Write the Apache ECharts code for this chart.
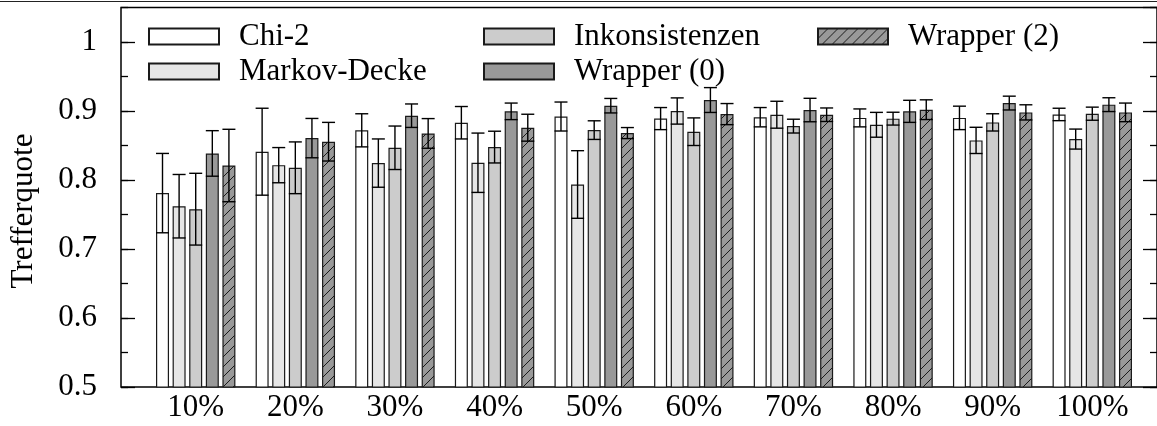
<!DOCTYPE html>
<html>
<head>
<meta charset="utf-8">
<script src="https://cdn.jsdelivr.net/npm/echarts@6/dist/echarts.min.js"></script>
<style>
html,body{margin:0;padding:0;background:#fff;}
#chart{width:1157px;height:426px;}
</style>
</head>
<body>
<div id="chart"></div>
<script>
const categories = ['10%','20%','30%','40%','50%','60%','70%','80%','90%','100%'];
const seriesNames = ['Chi-2','Markov-Decke','Inkonsistenzen','Wrapper (0)','Wrapper (2)'];
const yTicks = [0.5,0.6,0.7,0.8,0.9,1.0];

const chi2      = [0.781, 0.841, 0.872, 0.883, 0.892, 0.889, 0.891, 0.890, 0.890, 0.895];
const chi2Err   = [0.0575,0.063, 0.024, 0.0235,0.021, 0.016, 0.014, 0.013, 0.017, 0.009];
const markov    = [0.762, 0.8215,0.8245,0.825, 0.7935,0.900, 0.8946,0.880, 0.8574,0.8593];
const markovErr = [0.046, 0.0255,0.035, 0.043, 0.049, 0.019, 0.0195,0.018, 0.019, 0.0145];
const inkon     = [0.7577,0.8177,0.8467,0.8477,0.8723,0.870, 0.8781,0.8889,0.8835,0.8961];
const inkonErr  = [0.052, 0.0375,0.0315,0.023, 0.0135,0.020, 0.010, 0.0093,0.0125,0.0095];
const w0        = [0.8385,0.8607,0.8932,0.8995,0.9077,0.9159,0.9014,0.8995,0.9115,0.9092];
const w0Err     = [0.033, 0.0285,0.017, 0.012, 0.0105,0.018, 0.017, 0.016, 0.010, 0.010];
const w2        = [0.821, 0.8555,0.8675,0.8758,0.868, 0.8955,0.8946,0.9019,0.898, 0.898];
const w2Err     = [0.0525,0.028, 0.0215,0.0195,0.008, 0.0153,0.0098,0.0143,0.011, 0.0135];

const values = [chi2, markov, inkon, w0, w2];
const errors = [chi2Err, markovErr, inkonErr, w0Err, w2Err];

// hatch pattern
const P = 10;
const pc = document.createElement('canvas');
pc.width = P; pc.height = P;
const pctx = pc.getContext('2d');
pctx.fillStyle = '#999999';
pctx.fillRect(0,0,P,P);
pctx.strokeStyle = '#1a1a1a';
pctx.lineWidth = 1;
pctx.beginPath();
pctx.moveTo(-1,P+1); pctx.lineTo(P+1,-1);
pctx.moveTo(-1,1); pctx.lineTo(1,-1);
pctx.moveTo(P-1,P+1); pctx.lineTo(P+1,P-1);
pctx.stroke();
const hatch = {image: pc, repeat: 'repeat'};

const fills = ['#ffffff','#e6e6e6','#cccccc','#999999', hatch];
const FONT = 'Liberation Serif';

const GTOP = 7.5, GH = 379.5;
const chart = echarts.init(document.getElementById('chart'));

const barSeries = seriesNames.map((n,j)=>({
  type:'bar', name:n, xAxisIndex:1, yAxisIndex:4,
  data: values[j],
  barWidth: 13, barGap: '27.7%',
  itemStyle:{color: fills[j], borderColor:'#1a1a1a', borderWidth:1.2},
  emphasis:{disabled:true}, animation:false
}));

const errSeries = seriesNames.map((n,j)=>({
  type:'custom', name:'err'+j, xAxisIndex:1, yAxisIndex:4,
  data: values[j].map((v,i)=>[i, v-errors[j][i], v+errors[j][i]]),
  renderItem:(params, api)=>{
    const i = api.value(0);
    const bw = api.size([1,0])[0];
    const off = (j-2)*bw/6;
    const lo = api.coord([i, api.value(1)]);
    const hi = api.coord([i, api.value(2)]);
    const x = lo[0]+off, hw = 6.5;
    const st = {stroke:'#000', lineWidth:1.4};
    return {type:'group', children:[
      {type:'line', shape:{x1:x,y1:lo[1],x2:x,y2:hi[1]}, style:st},
      {type:'line', shape:{x1:x-hw,y1:lo[1],x2:x+hw,y2:lo[1]}, style:st},
      {type:'line', shape:{x1:x-hw,y1:hi[1],x2:x+hw,y2:hi[1]}, style:st}
    ]};
  },
  animation:false, z:5
}));

const yBase = {type:'value', min:0.5, max:1.05, gridIndex:0,
  splitLine:{show:false}, axisLine:{show:false}};

const legendCommon = {
  orient:'vertical', itemWidth:70, itemHeight:16, itemGap:4, icon:'rect',
  selectedMode:false, padding:0,
  textStyle:{fontFamily:FONT, fontSize:31, color:'#000', padding:[0,0,0,15]}
};

chart.setOption({
  animation:false,
  grid:[
    {left:121, top:GTOP, width:1046, height:GH, show:true, borderColor:'#000', borderWidth:1.5, backgroundColor:'transparent'},
    {left:145.9, top:GTOP, width:996.2, height:GH}
  ],
  xAxis:[
    {type:'value', gridIndex:0, min:0, max:1, show:false},
    {type:'category', gridIndex:1, data:categories, axisLine:{show:false}, axisTick:{show:false},
     axisLabel:{fontFamily:FONT, fontSize:31, color:'#000', margin:5}}
  ],
  yAxis:[
    Object.assign({}, yBase, {position:'left', interval:0.1,
      axisTick:{inside:true, length:14, lineStyle:{color:'#000', width:1.3}},
      axisLabel:{fontFamily:FONT, fontSize:31, color:'#000', margin:24, showMaxLabel:false,
        formatter:(v)=>{ const k = yTicks.find(t=>Math.abs(t-v)<1e-6); return k===undefined?'':(k===1?'1':k.toFixed(1)); }}}),
    Object.assign({}, yBase, {position:'left', interval:0.05,
      axisTick:{inside:true, length:7, lineStyle:{color:'#000', width:1.3}}, axisLabel:{show:false}}),
    Object.assign({}, yBase, {position:'right', interval:0.1,
      axisTick:{inside:true, length:14, lineStyle:{color:'#000', width:1.3}}, axisLabel:{show:false}}),
    Object.assign({}, yBase, {position:'right', interval:0.05,
      axisTick:{inside:true, length:7, lineStyle:{color:'#000', width:1.3}}, axisLabel:{show:false}}),
    {type:'value', gridIndex:1, min:0.5, max:1.05, show:false}
  ],
  legend:[
    Object.assign({}, legendCommon, {left:148, top:21, data:['Chi-2','Markov-Decke']}),
    Object.assign({}, legendCommon, {left:483, top:21, data:['Inkonsistenzen','Wrapper (0)']}),
    Object.assign({}, legendCommon, {left:817, top:21, data:['Wrapper (2)']})
  ],
  graphic:[
    {type:'line', shape:{x1:0,y1:1.5,x2:1157,y2:1.5}, style:{stroke:'#222', lineWidth:1.2}, silent:true},
    {type:'text', x:24, y:211, rotation:Math.PI/2,
     style:{text:'Trefferquote', font:'31px "Liberation Serif"', fill:'#000', align:'center', verticalAlign:'middle'}}
  ],
  series: barSeries.concat(errSeries)
});
</script>
</body>
</html>
